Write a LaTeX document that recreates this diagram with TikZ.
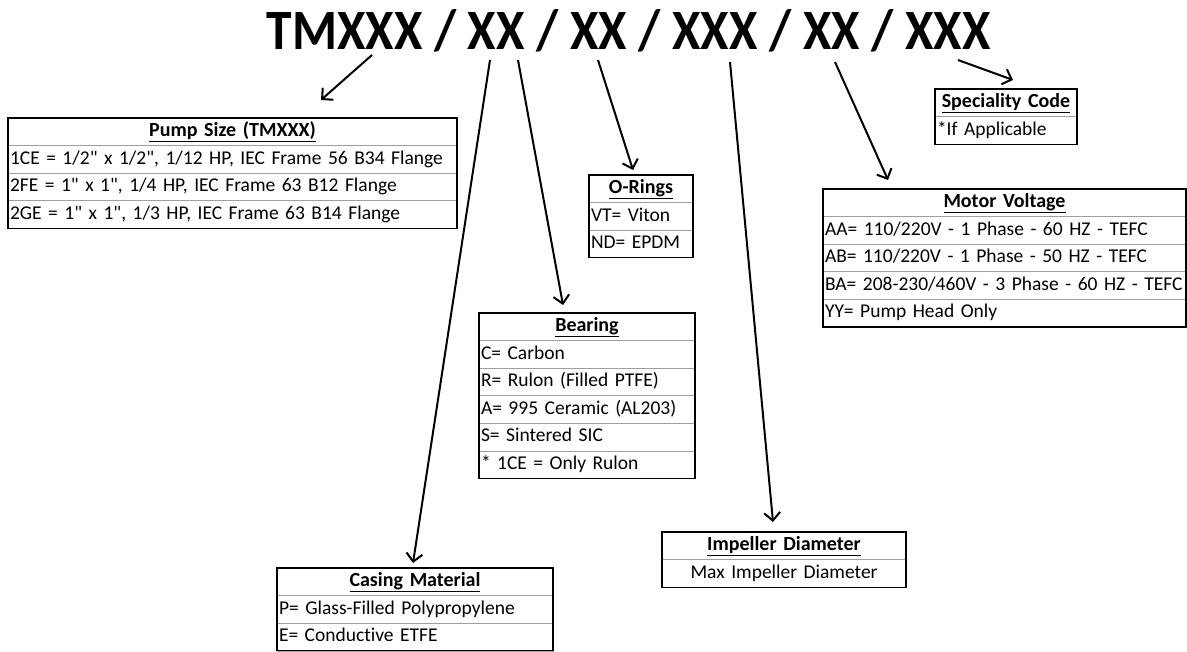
\documentclass[tikz,border=0pt]{standalone}
\usepackage{fontspec}
\setmainfont{Carlito}[Ligatures={TeXOff,CommonOff}]
\usetikzlibrary{arrows.meta}

\begin{document}
\begin{tikzpicture}
    [x=1pt,y=-1pt,
     every node/.style={inner sep=0pt, outer sep=0pt, font=\fontsize{19.5}{22}\selectfont},
     cell/.style={draw=gray!75, line width=.6pt, anchor=north west, minimum height=27.6pt,
       inner xsep=2pt, text width=#1, text height=13.5pt, text depth=4pt, align=left},
     head/.style={cell=#1, align=center, font=\fontsize{20}{22}\selectfont\bfseries},
     frame/.style={draw=black, line width=1.1pt},
     ptr/.style={line width=2pt, -{Straight Barb[length=8pt,width=16pt]}}]
  \useasboundingbox (0,0) rectangle (1187,652);

  % part code
  \node[anchor=base, font=\fontsize{57}{60}\selectfont\bfseries] (code) at (628.5,50)
    {\scalebox{0.904}[1]{TMXXX / XX / XX / XXX / XX / XXX}};

  % pump size
  \node[head=445] (pump0) at (8,118) {\underline{Pump Size (TMXXX)}};
  \foreach \t [count=\i] in {{1CE = 1/2" x 1/2", 1/12 HP, IEC Frame 56 B34 Flange},
      {2FE = 1" x 1", 1/4 HP, IEC Frame 63 B12 Flange}, {2GE = 1" x 1", 1/3 HP, IEC Frame 63 B14 Flange}}
    \node[cell=445] (pump\i) at (8,{118+\i*27.6}) {\mbox{\t}};
  \draw[frame] (pump0.north west) rectangle (pump3.south east);

  % casing material
  \node[head=272] (case0) at (277,568) {\underline{Casing Material}};
  \foreach \t [count=\i] in {P= Glass-Filled Polypropylene, E= Conductive ETFE}
    \node[cell=272] (case\i) at (277,{568+\i*27.6}) {\mbox{\t}};
  \draw[frame] (case0.north west) rectangle (case2.south east);

  % bearing
  \node[head=212] (bear0) at (479,313) {\underline{Bearing}};
  \foreach \t [count=\i] in {C= Carbon, R= Rulon (Filled PTFE), A= 995 Ceramic (AL203), S= Sintered SIC, * 1CE = Only Rulon}
    \node[cell=212] (bear\i) at (479,{313+\i*27.6}) {\mbox{\t}};
  \draw[frame] (bear0.north west) rectangle (bear5.south east);

  % o-rings
  \node[head=100] (ring0) at (589,175) {\underline{O-Rings}};
  \foreach \t [count=\i] in {VT= Viton, ND= EPDM}
    \node[cell=100] (ring\i) at (589,{175+\i*27.6}) {\mbox{\t}};
  \draw[frame] (ring0.north west) rectangle (ring2.south east);

  % motor voltage
  \node[head=359] (motor0) at (823,189) {\underline{Motor Voltage}};
  \foreach \t [count=\i] in {AA= 110/220V - 1 Phase - 60 HZ - TEFC, AB= 110/220V - 1 Phase - 50 HZ - TEFC,
      BA= 208-230/460V - 3 Phase - 60 HZ - TEFC, YY= Pump Head Only}
    \node[cell=359] (motor\i) at (823,{189+\i*27.6}) {\mbox{\t}};
  \draw[frame] (motor0.north west) rectangle (motor4.south east);

  % speciality code
  \node[head=138] (spec0) at (935,89) {\underline{Speciality Code}};
  \node[cell=138] (spec1) at (935,116.6) {\mbox{*If Applicable}};
  \draw[frame] (spec0.north west) rectangle (spec1.south east);

  % impeller diameter
  \node[head=240] (imp0) at (662,532) {\underline{Impeller Diameter}};
  \node[cell=240, align=center] (imp1) at (662,559.6) {Max Impeller Diameter};
  \draw[frame] (imp0.north west) rectangle (imp1.south east);

  % arrows
  \foreach \name/\sx/\sy/\ex/\ey in {pump/372/55/321/100, case/490/60/413/563, bear/518/60/563/305,
      ring/598/60/633/170, imp/730/62/773/522, motor/835/62/888/180, spec/958/60/1013/80} {
    \coordinate (\name s) at (\sx,\sy);
    \coordinate (\name e) at (\ex,\ey);
    \draw[ptr] (\name s) -- (\name e);
  }
\end{tikzpicture}
\end{document}
